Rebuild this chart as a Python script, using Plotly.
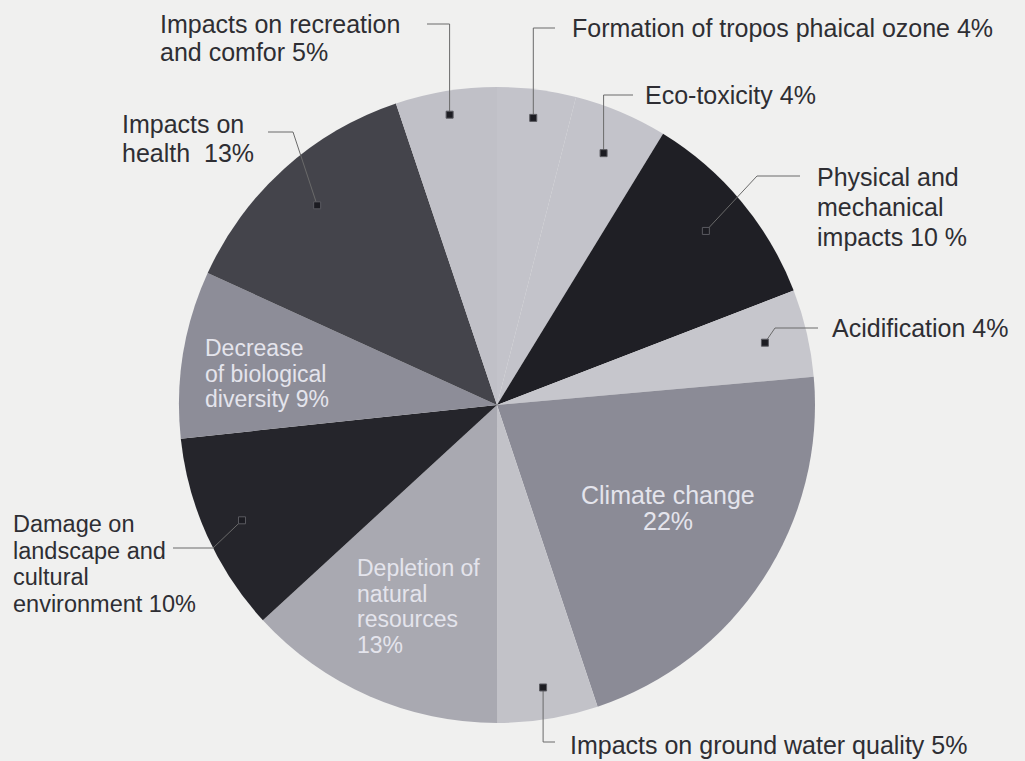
import math
import plotly.graph_objects as go

# ---------------- data ----------------
categories = [
    "Formation of tropos phaical ozone",
    "Eco-toxicity",
    "Physical and mechanical impacts",
    "Acidification",
    "Climate change",
    "Impacts on ground water quality",
    "Depletion of natural resources",
    "Damage on landscape and cultural environment",
    "Decrease of biological diversity",
    "Impacts on health",
    "Impacts on recreation and comfor",
]
# slice sizes (percent of the circle)
values = [4.0, 4.75, 10.4, 4.45, 21.3, 5.1, 13.2, 10.15, 8.5, 13.05, 5.15]
label_texts = [
    "Formation of tropos phaical ozone 4%",
    "Eco-toxicity 4%",
    "Physical and<br>mechanical<br>impacts 10 %",
    "Acidification 4%",
    "Climate change<br>22%",
    "Impacts on ground water quality 5%",
    "Depletion of<br>natural<br>resources<br>13%",
    "Damage on<br>landscape and<br>cultural<br>environment 10%",
    "Decrease<br>of biological<br>diversity 9%",
    "Impacts on<br>health  13%",
    "Impacts on recreation<br>and comfor 5%",
]

# ---------------- style / layout ----------------
W, H = 1025, 761
CX, CY, R = 497, 405, 318
BG = "#f0f0ef"
slice_colors = ["#c3c3ca", "#c3c3ca", "#1f1f25", "#c6c6cc", "#8b8b96",
                "#c2c2c8", "#a9a9b1", "#25252b", "#8d8d98", "#44444b", "#c0c0c7"]
FONT = "Liberation Sans, Arial, sans-serif"
LINE_COLOR = "#6a6a6a"

# label placement (pixel coords): first-line centre y, line spacing, font size, marker r-fraction, leader path
label_style = [
    dict(kind="out", x=570, y=28, ls=28, fs=25, xa="left", rf=0.91, elbow=("v", 28), end=555),
    dict(kind="out", x=643, y=95, ls=28, fs=25, xa="left", rf=0.86, elbow=("v", 95), end=633),
    dict(kind="out", x=815, y=177, ls=30, fs=25, xa="left", rf=0.855, elbow=("p", 757, 176), end=800),
    dict(kind="out", x=830, y=328, ls=28, fs=25, xa="left", rf=0.865, elbow=("p", 775, 328), end=818),
    dict(kind="in", x=668, y=495, ls=26, fs=25, xa="center"),
    dict(kind="out", x=568, y=745, ls=28, fs=25, xa="left", rf=0.90, elbow=("v", 742), end=555),
    dict(kind="in", x=355, y=568, ls=25.5, fs=23, xa="left"),
    dict(kind="out", x=11, y=524, ls=26.5, fs=23.5, xa="left", rf=0.88, elbow=("p", 213, 548), end=173),
    dict(kind="in", x=203, y=348, ls=25.5, fs=23, xa="left"),
    dict(kind="out", x=120, y=124, ls=29, fs=25, xa="left", rf=0.845, elbow=("p", 293, 132), end=268),
    dict(kind="out", x=158, y=24, ls=28, fs=25, xa="left", rf=0.925, elbow=("v", 24), end=427),
]

fig = go.Figure()

fig.add_trace(go.Pie(
    labels=categories,
    values=values,
    sort=False,
    direction="clockwise",
    rotation=0,
    textinfo="none",
    hoverinfo="skip",
    showlegend=False,
    marker=dict(colors=slice_colors, line=dict(width=0)),
    domain=dict(x=[(CX - R) / W, (CX + R) / W],
                y=[(H - CY - R) / H, (H - CY + R) / H]),
))

total = sum(values)
cum = 0
shapes = []
annotations = []
MS = 3.5  # half size of marker squares
for v, txt, st in zip(values, label_texts, label_style):
    mid = (cum + v / 2) / total * 2 * math.pi
    cum += v
    if st["kind"] == "out":
        r = R * st["rf"]
        mx = CX + r * math.sin(mid)
        my = CY - r * math.cos(mid)
        el = st["elbow"]
        if el[0] == "v":
            ex, ey = mx, el[1]
        else:
            ex, ey = el[1], el[2]
        shapes.append(dict(
            type="path", xref="x", yref="y", layer="above",
            path=f"M {mx:.1f},{my:.1f} L {ex:.1f},{ey:.1f} L {st['end']:.1f},{ey:.1f}",
            line=dict(color=LINE_COLOR, width=1)))
        shapes.append(dict(
            type="rect", xref="x", yref="y", layer="above",
            x0=mx - MS, x1=mx + MS, y0=my - MS, y1=my + MS,
            fillcolor="#1c1c22", line=dict(width=1, color="#5a5a60")))
        color = "#2e2e33"
    else:
        color = "#e4e4ec"
    for i, line in enumerate(txt.split("<br>")):
        annotations.append(dict(
            x=st["x"], y=st["y"] + i * st["ls"], xref="x", yref="y", text=line,
            showarrow=False, xanchor=st["xa"], yanchor="middle", align=st["xa"],
            font=dict(family=FONT, size=st["fs"], color=color)))

fig.update_layout(
    width=W, height=H,
    margin=dict(l=0, r=0, t=0, b=0),
    paper_bgcolor=BG, plot_bgcolor="rgba(0,0,0,0)",
    xaxis=dict(range=[0, W], visible=False, fixedrange=True),
    yaxis=dict(range=[H, 0], visible=False, fixedrange=True),
    annotations=annotations,
    shapes=shapes,
    showlegend=False,
)

fig.write_html("out.html")
